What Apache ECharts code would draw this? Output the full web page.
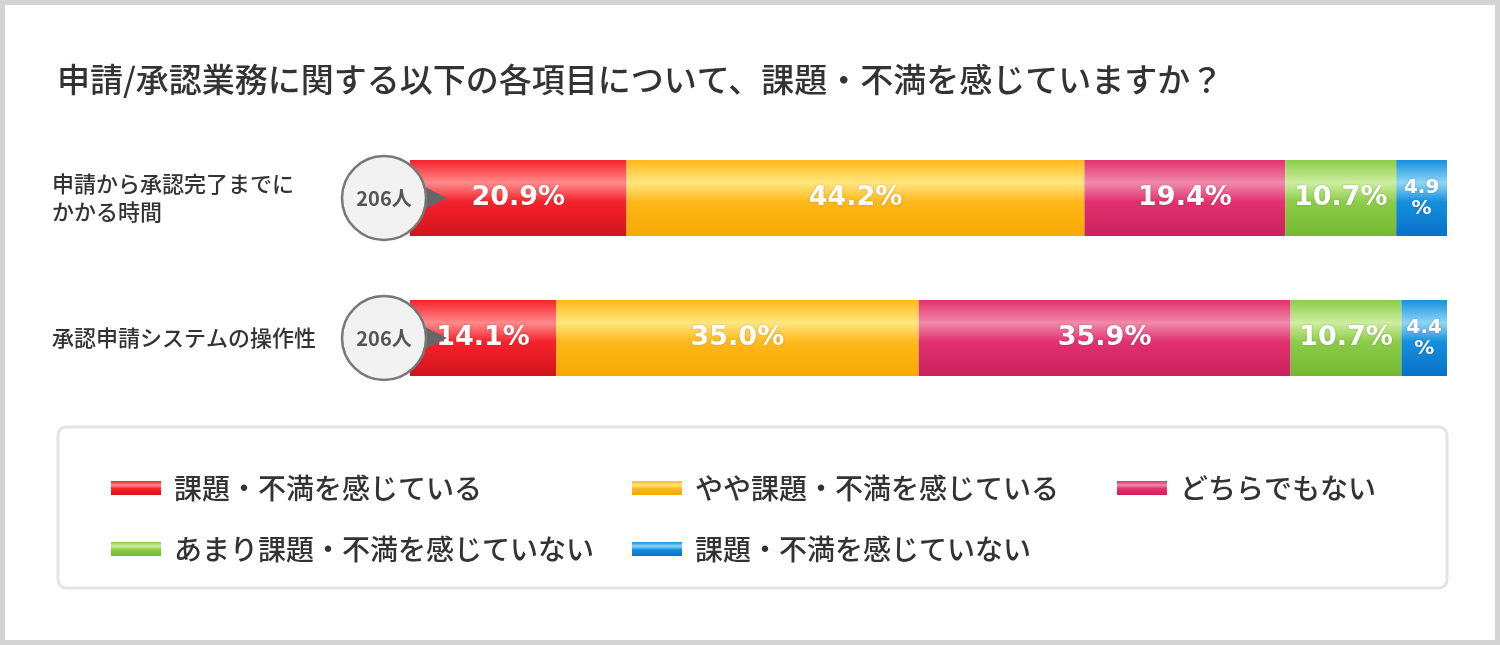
<!DOCTYPE html>
<html><head><meta charset="utf-8">
<script src="https://cdn.jsdelivr.net/npm/echarts@6/dist/echarts.min.js"></script>
<style>html,body{margin:0;padding:0;background:#fff}#c{width:1500px;height:645px;box-sizing:border-box;border:5px solid #d4d4d4}</style>
</head><body><div id="c"></div>
<script>
const categories = ['申請から承認完了までに\nかかる時間', '承認申請システムの操作性'];
const seriesNames = ['課題・不満を感じている','やや課題・不満を感じている','どちらでもない','あまり課題・不満を感じていない','課題・不満を感じていない'];
const s1 = [20.9, 14.1];
const s2 = [44.2, 35.0];
const s3 = [19.4, 35.9];
const s4 = [10.7, 10.7];
const s5 = [4.9, 4.4];
const respondents = ['206人', '206人'];
const values = [s1, s2, s3, s4, s5];
const base = ['#f5222c','#ffb81a','#e2306e','#8ccc48','#1590de'];
const light = ['#ff8a8a','#ffe680','#f08aab','#cdeea0','#8fd6f5'];
const dark = ['#d0141c','#f5a800','#c8235c','#75b830','#0a70c8'];
function grad(i){return new echarts.graphic.LinearGradient(0,0,0,1,[{offset:0,color:base[i]},{offset:0.3,color:light[i]},{offset:0.55,color:base[i]},{offset:1,color:dark[i]}]);}
const chart = echarts.init(document.getElementById('c'));
const series = values.map((v,i)=>({
  name: seriesNames[i], type:'bar', stack:'a', barWidth:76, data:v,
  itemStyle:{color:grad(i)},
  label:{show:true, position:'inside', color:'#fff', fontSize:i==4?20:27, fontWeight:'bold', fontFamily:'DejaVu Sans, Liberation Sans',
    textShadowColor:'rgba(0,0,0,0.25)', textShadowBlur:2, lineHeight:21,
    formatter:p=> i==4 ? p.value.toFixed(1)+'\n%' : p.value.toFixed(1)+'%'}
}));
const legendPos = [[106,464],[627,464],[1112,464],[106,525],[627,525]];
const legends = seriesNames.map((n,i)=>({data:[n], left:legendPos[i][0]-5, top:legendPos[i][1], itemWidth:50, itemHeight:14, itemGap:0, icon:'rect',
  textStyle:{fontSize:28, color:'#333', padding:[0,0,0,8], fontFamily:'Noto Sans CJK JP', fontWeight:500}, selectedMode:false}));
const graphics = [
  {type:'rect', shape:{x:53,y:422,width:1389,height:161,r:8}, style:{fill:'#fff', stroke:'#e4e4e4', lineWidth:3}, z:-1}
];
[193,333].forEach((cy,k)=>{
  graphics.push({type:'polygon', shape:{points:[[420,cy-11],[420,cy+11],[442,cy]]}, style:{fill:'#666'}, z:10});
  graphics.push({type:'circle', shape:{cx:379,cy:cy,r:42}, style:{fill:'#f2f2f2', stroke:'#777', lineWidth:2.5}, z:11});
  graphics.push({type:'text', x:379, y:cy, style:{text:respondents[k], fill:'#555', fontSize:20, fontWeight:'bold', align:'center', verticalAlign:'middle', fontFamily:'Noto Sans CJK JP'}, z:12});
});
chart.setOption({
  animation:false,
  title:{text:'申請/承認業務に関する以下の各項目について、課題・不満を感じていますか？', left:47, top:53, textStyle:{fontSize:33, fontWeight:500, color:'#333', fontFamily:'Noto Sans CJK JP'}},
  grid:{left:405, right:48, top:123, height:280},
  xAxis:{type:'value', min:0, max:100.1, show:false},
  yAxis:{type:'category', data:categories, inverse:true, axisLine:{show:false}, axisTick:{show:false},
    axisLabel:{align:'left', margin:358, fontSize:22, fontWeight:500, color:'#333', lineHeight:28, fontFamily:'Noto Sans CJK JP'}},
  legend:legends,
  graphic:graphics,
  series:series
});
</script></body></html>
